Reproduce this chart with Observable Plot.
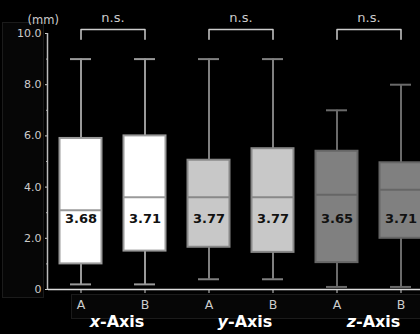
<!DOCTYPE html>
<html><head><meta charset="utf-8">
<script src="https://cdn.jsdelivr.net/npm/d3@7"></script>
<script src="https://cdn.jsdelivr.net/npm/@observablehq/plot@0.6"></script>
<style>
html,body{margin:0;padding:0;background:#000;overflow:hidden;}
#wrap{position:relative;width:420px;height:334px;}
.panel{position:absolute;border:1px solid #1b1b1b;background:#060606;box-sizing:border-box;}
#wrap svg{position:absolute;left:0;top:0;}
</style></head><body>
<div id="wrap">
<div class="panel" style="left:2px;top:22px;width:42px;height:276px"></div>
<div class="panel" style="left:71px;top:294px;width:360px;height:25px"></div>
</div>
<script>
// ---- data ----
const groups = ["x", "y", "z"];
const groupSuffix = "-Axis";
const conditions = ["A", "B"];
const categories = ["x-A", "x-B", "y-A", "y-B", "z-A", "z-B"];
const whiskerLow  = [0.2, 0.2, 0.4, 0.4, 0.1, 0.1];
const quartile1   = [1.0, 1.5, 1.65, 1.45, 1.05, 2.0];
const medians     = [3.1, 3.6, 3.6, 3.6, 3.7, 3.9];
const quartile3   = [5.9, 6.0, 5.05, 5.5, 5.4, 4.95];
const whiskerHigh = [9.0, 9.0, 9.0, 9.0, 7.0, 8.0];
const means       = [3.68, 3.71, 3.77, 3.77, 3.65, 3.71];
const significance = ["n.s.", "n.s.", "n.s."];
const yTicks = [0, 2, 4, 6, 8, 10];
const yMinorTicks = [1, 3, 5, 7, 9];
const unitLabel = "(mm)";

// ---- styles ----
const boxFill   = {x: "#ffffff", y: "#c8c8c8", z: "#808080"};
const boxStroke = {x: "#9a9a9a", y: "#888888", z: "#666666"};
const whiskerStroke = {x: "#9a9a9a", y: "#808080", z: "#6a6a6a"};

const rows = categories.map((key, i) => ({
  key, group: key.split("-")[0], cond: key.split("-")[1],
  lo: whiskerLow[i], q1: quartile1[i], med: medians[i], q3: quartile3[i], hi: whiskerHigh[i], mean: means[i]
}));
const bracketPts = groups.flatMap(g => [
  {group: g, key: g + "-A", y: 9.78},
  {group: g, key: g + "-A", y: 10.16},
  {group: g, key: g + "-B", y: 10.16},
  {group: g, key: g + "-B", y: 9.78}
]);

const font = "DejaVu Sans, Verdana, sans-serif";
const plot = Plot.plot({
  width: 420, height: 334,
  marginLeft: 48, marginRight: 0, marginTop: 33, marginBottom: 45,
  style: {background: "transparent", color: "#cccccc", fontFamily: font, fontSize: "12px", overflow: "visible"},
  x: {type: "band", domain: categories, range: [48.5, 432.5], paddingInner: 0.33, paddingOuter: 0.165, align: 0.5, axis: null},
  y: {domain: [0, 10], axis: null},
  color: {type: "identity"},
  marks: [
    Plot.axisY({ticks: yTicks, tickFormat: d => d === 0 ? "0" : d.toFixed(1), tickSize: 3, tickPadding: 4, color: "#cccccc", fontSize: 11, label: null}),
    Plot.axisY({ticks: yMinorTicks, tickFormat: () => "", tickSize: 2, color: "#aaaaaa", label: null}),
    Plot.axisX({tickSize: 4, tickPadding: 7, tickFormat: k => k.split("-")[1], color: "#cccccc", fontSize: 12.5, label: null}),
    Plot.ruleX(rows, {x: "key", y1: "lo", y2: "hi", stroke: d => whiskerStroke[d.group], strokeWidth: 2}),
    Plot.tickY(rows, {x: "key", y: "lo", stroke: d => whiskerStroke[d.group], strokeWidth: 2, insetLeft: 11, insetRight: 11}),
    Plot.tickY(rows, {x: "key", y: "hi", stroke: d => whiskerStroke[d.group], strokeWidth: 2, insetLeft: 11, insetRight: 11}),
    Plot.barY(rows, {x: "key", y1: "q1", y2: "q3", fill: d => boxFill[d.group], stroke: d => boxStroke[d.group], strokeWidth: 2, insetLeft: 0.5, insetRight: 0.5}),
    Plot.tickY(rows, {x: "key", y: "med", stroke: d => boxStroke[d.group], strokeWidth: 2, insetLeft: 0.5, insetRight: 0.5}),
    Plot.text(rows, {x: "key", frameAnchor: "bottom", dy: -67, text: d => d.mean.toFixed(2), fontWeight: "bold", fontSize: 13, fill: "#111111"}),
    Plot.ruleY([0], {stroke: "#dddddd", strokeWidth: 1.5}),
    Plot.line(bracketPts, {x: "key", y: "y", z: "group", stroke: "#cccccc", strokeWidth: 1.5}),
    Plot.text(groups, {x: g => g + "-A", y: () => 10, dx: 32, dy: -16, text: (g, i) => significance[i], fontSize: 13, fill: "#cccccc"}),
    Plot.text(groups, {x: g => g + "-A", frameAnchor: "bottom", dx: 19, dy: 37, text: g => g, textAnchor: "end", fontStyle: "italic", fontWeight: "bold", fontSize: 16, fill: "#ffffff"}),
    Plot.text(groups, {x: g => g + "-A", frameAnchor: "bottom", dx: 19, dy: 37, text: () => groupSuffix, textAnchor: "start", fontWeight: "bold", fontSize: 16, fill: "#ffffff"}),
    Plot.text([unitLabel], {frameAnchor: "top-left", dx: -21, dy: -18, text: d => d, fontSize: 11.5, fill: "#cccccc"})
  ]
});
const ys = plot.scale("y");
d3.select(plot).append("line")
  .attr("x1", 47.5).attr("x2", 47.5)
  .attr("y1", ys.apply(10)).attr("y2", ys.apply(0))
  .attr("stroke", "#bbbbbb").attr("stroke-width", 1.5);
document.getElementById("wrap").appendChild(plot);
</script>
</body></html>
